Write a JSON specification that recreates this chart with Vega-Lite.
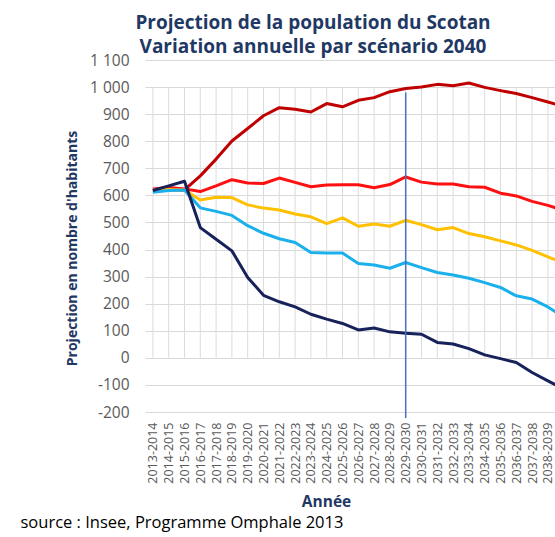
{
  "$schema": "https://vega.github.io/schema/vega-lite/v6.json",
  "autosize": {"type": "none"},
  "padding": {"left": 145, "top": 60, "right": 0, "bottom": 125},
  "width": 410,
  "height": 352,
  "background": "white",
  "config": {
    "view": {"stroke": null},
    "font": "Open Sans",
    "locale": {"number": {"decimal": ",", "thousands": " ", "grouping": [3], "currency": ["", " €"], "minus": "-"}},
    "axis": {"labelOverlap": false}
  },
  "title": {
    "text": ["Projection de la population du Scotan", "Variation annuelle par scénario 2040"],
    "font": "Open Sans", "fontSize": 19, "fontWeight": "bold", "color": "#1f3864",
    "anchor": "middle", "frame": "group", "dx": -37, "lineHeight": 24, "offset": -4
  },
  "datasets": {
    "annees": [
      {"annee": 2013}, {"annee": 2014}, {"annee": 2015}, {"annee": 2016}, {"annee": 2017}, {"annee": 2018},
      {"annee": 2019}, {"annee": 2020}, {"annee": 2021}, {"annee": 2022}, {"annee": 2023}, {"annee": 2024},
      {"annee": 2025}, {"annee": 2026}, {"annee": 2027}, {"annee": 2028}, {"annee": 2029}, {"annee": 2030},
      {"annee": 2031}, {"annee": 2032}, {"annee": 2033}, {"annee": 2034}, {"annee": 2035}, {"annee": 2036},
      {"annee": 2037}, {"annee": 2038}
    ],
    "projection": [
      {"annee": 2013, "Haut": 622, "Central": 624, "Intermediaire": 620, "Modere": 612, "Bas": 618},
      {"annee": 2014, "Haut": 620, "Central": 629, "Intermediaire": 622, "Modere": 618, "Bas": 635},
      {"annee": 2015, "Haut": 620, "Central": 624, "Intermediaire": 620, "Modere": 620, "Bas": 652},
      {"annee": 2016, "Haut": 672, "Central": 614, "Intermediaire": 583, "Modere": 554, "Bas": 481},
      {"annee": 2017, "Haut": 734, "Central": 635, "Intermediaire": 593, "Modere": 541, "Bas": 438},
      {"annee": 2018, "Haut": 801, "Central": 658, "Intermediaire": 592, "Modere": 526, "Bas": 395},
      {"annee": 2019, "Haut": 847, "Central": 646, "Intermediaire": 565, "Modere": 488, "Bas": 297},
      {"annee": 2020, "Haut": 894, "Central": 644, "Intermediaire": 553, "Modere": 460, "Bas": 231},
      {"annee": 2021, "Haut": 924, "Central": 664, "Intermediaire": 546, "Modere": 440, "Bas": 207},
      {"annee": 2022, "Haut": 918, "Central": 648, "Intermediaire": 531, "Modere": 426, "Bas": 188},
      {"annee": 2023, "Haut": 908, "Central": 632, "Intermediaire": 521, "Modere": 389, "Bas": 161},
      {"annee": 2024, "Haut": 939, "Central": 638, "Intermediaire": 496, "Modere": 387, "Bas": 143},
      {"annee": 2025, "Haut": 927, "Central": 639, "Intermediaire": 517, "Modere": 387, "Bas": 127},
      {"annee": 2026, "Haut": 951, "Central": 639, "Intermediaire": 486, "Modere": 348, "Bas": 103},
      {"annee": 2027, "Haut": 961, "Central": 628, "Intermediaire": 494, "Modere": 343, "Bas": 110},
      {"annee": 2028, "Haut": 983, "Central": 640, "Intermediaire": 486, "Modere": 331, "Bas": 96},
      {"annee": 2029, "Haut": 995, "Central": 668, "Intermediaire": 508, "Modere": 352, "Bas": 91},
      {"annee": 2030, "Haut": 1000, "Central": 649, "Intermediaire": 492, "Modere": 333, "Bas": 87},
      {"annee": 2031, "Haut": 1010, "Central": 642, "Intermediaire": 473, "Modere": 315, "Bas": 57},
      {"annee": 2032, "Haut": 1005, "Central": 642, "Intermediaire": 481, "Modere": 306, "Bas": 51},
      {"annee": 2033, "Haut": 1015, "Central": 632, "Intermediaire": 459, "Modere": 294, "Bas": 34},
      {"annee": 2034, "Haut": 999, "Central": 630, "Intermediaire": 447, "Modere": 278, "Bas": 11},
      {"annee": 2035, "Haut": 987, "Central": 608, "Intermediaire": 432, "Modere": 260, "Bas": -3},
      {"annee": 2036, "Haut": 976, "Central": 598, "Intermediaire": 417, "Modere": 229, "Bas": -17},
      {"annee": 2037, "Haut": 961, "Central": 578, "Intermediaire": 397, "Modere": 217, "Bas": -54},
      {"annee": 2038, "Haut": 945, "Central": 563, "Intermediaire": 373, "Modere": 188, "Bas": -85},
      {"annee": 2039, "Haut": 928, "Central": 545, "Intermediaire": 350, "Modere": 150, "Bas": -115}
    ],
    "repere": [{"annee": 2029, "haut": 980, "bas": -222}]
  },
  "layer": [
    {
      "data": {"name": "annees"},
      "mark": {"type": "rule", "color": "#dcdcdc", "strokeWidth": 1},
      "encoding": {
        "x": {"field": "annee", "type": "quantitative", "axis": null},
        "y": {"datum": 0, "type": "quantitative", "axis": null},
        "y2": {"datum": 1000}
      }
    },
    {
      "data": {"name": "projection"},
      "transform": [{"fold": ["Haut", "Central", "Intermediaire", "Modere", "Bas"], "as": ["scenario", "valeur"]}],
      "mark": {"type": "line", "strokeWidth": 3, "strokeJoin": "round", "clip": true},
      "encoding": {
        "x": {
          "field": "annee", "type": "quantitative",
          "scale": {"domain": [2012.5, 2038.45], "nice": false, "zero": false},
          "axis": {
            "orient": "bottom",
            "values": [2013, 2014, 2015, 2016, 2017, 2018, 2019, 2020, 2021, 2022, 2023, 2024, 2025, 2026, 2027, 2028, 2029, 2030, 2031, 2032, 2033, 2034, 2035, 2036, 2037, 2038],
            "labelExpr": "datum.value + '-' + (datum.value + 1)",
            "labelAngle": -90, "labelFontSize": 12.5, "labelColor": "#595959", "labelFont": "Open Sans",
            "labelPadding": 10, "labelOverlap": false, "labelFlush": false, "labelBound": false,
            "ticks": false, "domain": false, "grid": false,
            "title": "Année", "titleFont": "Open Sans", "titleFontSize": 15.5, "titleFontWeight": "bold", "titleColor": "#1f3864",
            "titleX": 181, "titleY": 94, "titleAlign": "center", "titleBaseline": "alphabetic", "titleAnchor": null
          }
        },
        "y": {
          "field": "valeur", "type": "quantitative",
          "scale": {"domain": [-200, 1100], "nice": false, "zero": false},
          "axis": {
            "orient": "left",
            "values": [-200, 0, 200, 400, 600, 800, 1000],
            "format": ",d",
            "labelFontSize": 15.5, "labelColor": "#595959", "labelFont": "Open Sans", "labelPadding": 16,
            "labelOverlap": false, "labelBound": false, "labelFlush": false,
            "ticks": false, "domain": false, "grid": true, "gridColor": "#d9d9d9", "gridWidth": 1,
            "title": "Projection en nombre d'habitants", "titleFont": "Open Sans", "titleFontSize": 14, "titleFontWeight": "bold",
            "titleColor": "#1f3864", "titleX": -69, "titleY": 188, "titleAngle": -90, "titleAlign": "center", "titleBaseline": "alphabetic"
          }
        },
        "color": {
          "field": "scenario", "type": "nominal", "legend": null,
          "scale": {"domain": ["Haut", "Central", "Intermediaire", "Modere", "Bas"], "range": ["#c00000", "#ff1010", "#ffc000", "#1ab0ec", "#17215a"]}
        }
      }
    },
    {
      "data": {"name": "repere"},
      "mark": {"type": "rule", "color": "#4472c4", "strokeWidth": 1.5, "clip": false},
      "encoding": {
        "x": {
          "field": "annee", "type": "quantitative",
          "axis": {
            "orient": "bottom", "labels": false, "ticks": false, "domain": false, "grid": false,
            "title": "source : Insee, Programme Omphale 2013", "titleFont": "Open Sans", "titleFontSize": 16.5, "titleFontWeight": "normal",
            "titleColor": "#000000", "titleX": -125, "titleY": 115, "titleAlign": "left", "titleBaseline": "alphabetic", "titleAnchor": null
          }
        },
        "y": {
          "field": "haut", "type": "quantitative",
          "axis": {
            "orient": "left",
            "values": [-100, 100, 300, 500, 700, 900, 1100],
            "format": ",d",
            "labelFontSize": 15.5, "labelColor": "#595959", "labelFont": "Open Sans", "labelPadding": 16,
            "labelOverlap": false, "labelBound": false, "labelFlush": false,
            "ticks": false, "domain": false, "grid": true, "gridColor": "#d9d9d9", "gridWidth": 1,
            "title": null
          }
        },
        "y2": {"field": "bas"}
      }
    }
  ],
  "resolve": {"axis": {"x": "independent", "y": "independent"}}
}
